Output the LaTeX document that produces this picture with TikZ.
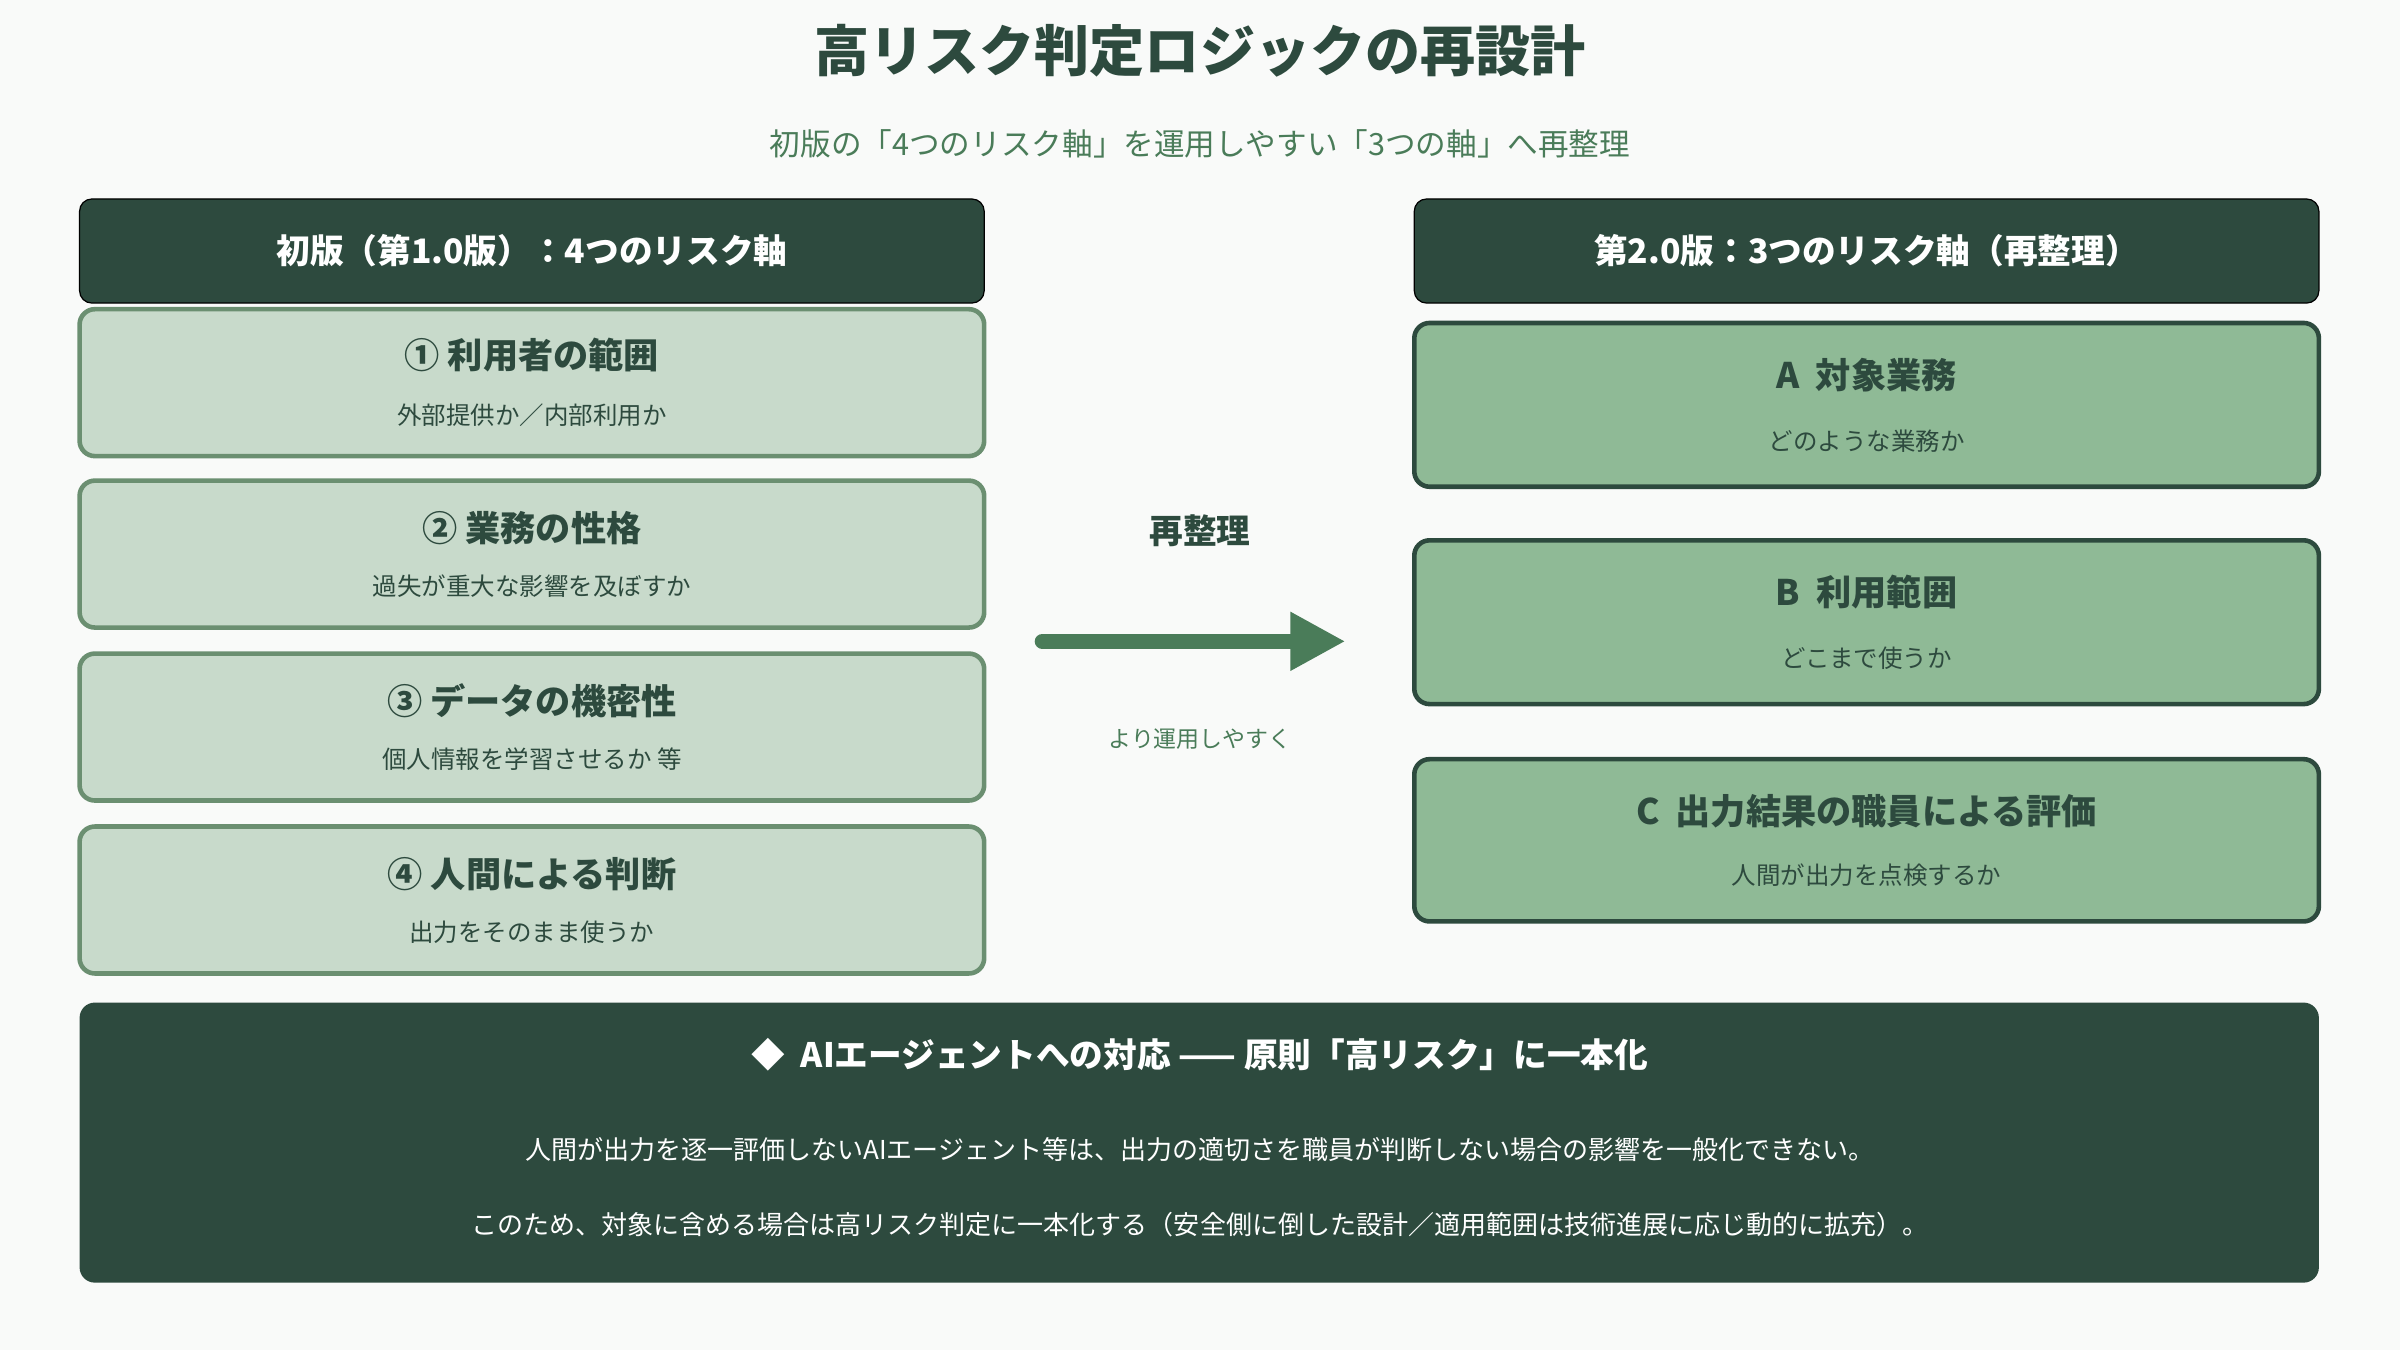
\documentclass[tikz,border=0pt]{standalone}
\usepackage{fontspec}
\setmainfont{Noto Sans CJK JP}
\usetikzlibrary{arrows.meta,positioning}
\definecolor{darkgreen}{HTML}{2D4A3E}
\definecolor{midgreen}{HTML}{4A7C59}
\definecolor{palegreen}{HTML}{C8DACB}
\definecolor{palerim}{HTML}{6B8F71}
\definecolor{sagegreen}{HTML}{8FBA96}
\definecolor{bgpaper}{HTML}{F9FAF9}
\tikzset{
  header/.style={fill=darkgreen,rounded corners=4pt,text=white,font=\fontsize{11}{13}\selectfont\bfseries},
  oldbox/.style={fill=palegreen,draw=palerim,line width=1.5pt,rounded corners=5pt},
  newbox/.style={fill=sagegreen,draw=darkgreen,line width=1.5pt,rounded corners=5pt},
  boxtitle/.style={text=darkgreen,font=\fontsize{11.5}{14}\selectfont\bfseries},
  boxsub/.style={text=darkgreen,font=\fontsize{8}{10}\selectfont},
  whitetext/.style={text=white,font=\fontsize{8.5}{11}\selectfont}
}
\begin{document}
\begin{tikzpicture}[x=0.5pt,y=-0.5pt]
\fill[bgpaper] (0,0) rectangle (1568,882);
\useasboundingbox (0,0) rectangle (1568,882);
\node[text=darkgreen,font=\fontsize{18}{22}\selectfont\bfseries] (title) at (784,33) {高リスク判定ロジックの再設計};
\node[text=midgreen,font=\fontsize{10}{12}\selectfont] (subtitle) at (784,94) {初版の「4つのリスク軸」を運用しやすい「3つの軸」へ再整理};
% left column
\draw[header] (52,130) rectangle (643,198);
\node[header,fill=none] (oldhead) at (347.5,164) {初版（第1.0版）：4つのリスク軸};
\draw[oldbox] (52,202) rectangle (643,298);
\node[boxtitle] (old1) at (347.5,232) {① 利用者の範囲};
\node[boxsub] (old1s) at (347.5,271) {外部提供か／内部利用か};
\draw[oldbox] (52,314) rectangle (643,410);
\node[boxtitle] (old2) at (347.5,345) {② 業務の性格};
\node[boxsub] (old2s) at (347.5,383) {過失が重大な影響を及ぼすか};
\draw[oldbox] (52,427) rectangle (643,523);
\node[boxtitle] (old3) at (347.5,458) {③ データの機密性};
\node[boxsub] (old3s) at (347.5,496) {個人情報を学習させるか 等};
\draw[oldbox] (52,540) rectangle (643,636);
\node[boxtitle] (old4) at (347.5,571) {④ 人間による判断};
\node[boxsub] (old4s) at (347.5,609) {出力をそのまま使うか};
% right column
\draw[header] (924,130) rectangle (1515,198);
\node[header,fill=none] (newhead) at (1219.5,164) {第2.0版：3つのリスク軸（再整理）};
\draw[newbox] (924,211) rectangle (1515,318);
\node[boxtitle] (newA) at (1219.5,245) {A\ \ 対象業務};
\node[boxsub] (newAs) at (1219.5,288) {どのような業務か};
\draw[newbox] (924,353) rectangle (1515,460);
\node[boxtitle] (newB) at (1219.5,387) {B\ \ 利用範囲};
\node[boxsub] (newBs) at (1219.5,430) {どこまで使うか};
\draw[newbox] (924,496) rectangle (1515,602);
\node[boxtitle] (newC) at (1219.5,530) {C\ \ 出力結果の職員による評価};
\node[boxsub] (newCs) at (1219.5,572) {人間が出力を点検するか};
% middle
\node[text=darkgreen,font=\fontsize{11}{13}\selectfont\bfseries] (mid) at (784,347) {再整理};
\coordinate (arrfrom) at (681,419);
\coordinate (arrto) at (879,419);
\draw[midgreen,line width=5pt,line cap=round,-{Triangle[length=18pt,width=18pt]}] (arrfrom) -- (arrto);
\node[text=midgreen,font=\fontsize{7.5}{9}\selectfont] (midsub) at (784,483) {より運用しやすく};
% bottom
\fill[darkgreen,rounded corners=5pt] (52,655) rectangle (1515,838);
\node[text=white,font=\fontsize{11}{13}\selectfont\bfseries] (aihead) at (784,689) {◆\ \ AIエージェントへの対応 —— 原則「高リスク」に一本化};
\node[whitetext] (ailine1) at (784,751) {人間が出力を逐一評価しないAIエージェント等は、出力の適切さを職員が判断しない場合の影響を一般化できない。};
\node[whitetext] (ailine2) at (784,800) {このため、対象に含める場合は高リスク判定に一本化する（安全側に倒した設計／適用範囲は技術進展に応じ動的に拡充）。};
\end{tikzpicture}
\end{document}
